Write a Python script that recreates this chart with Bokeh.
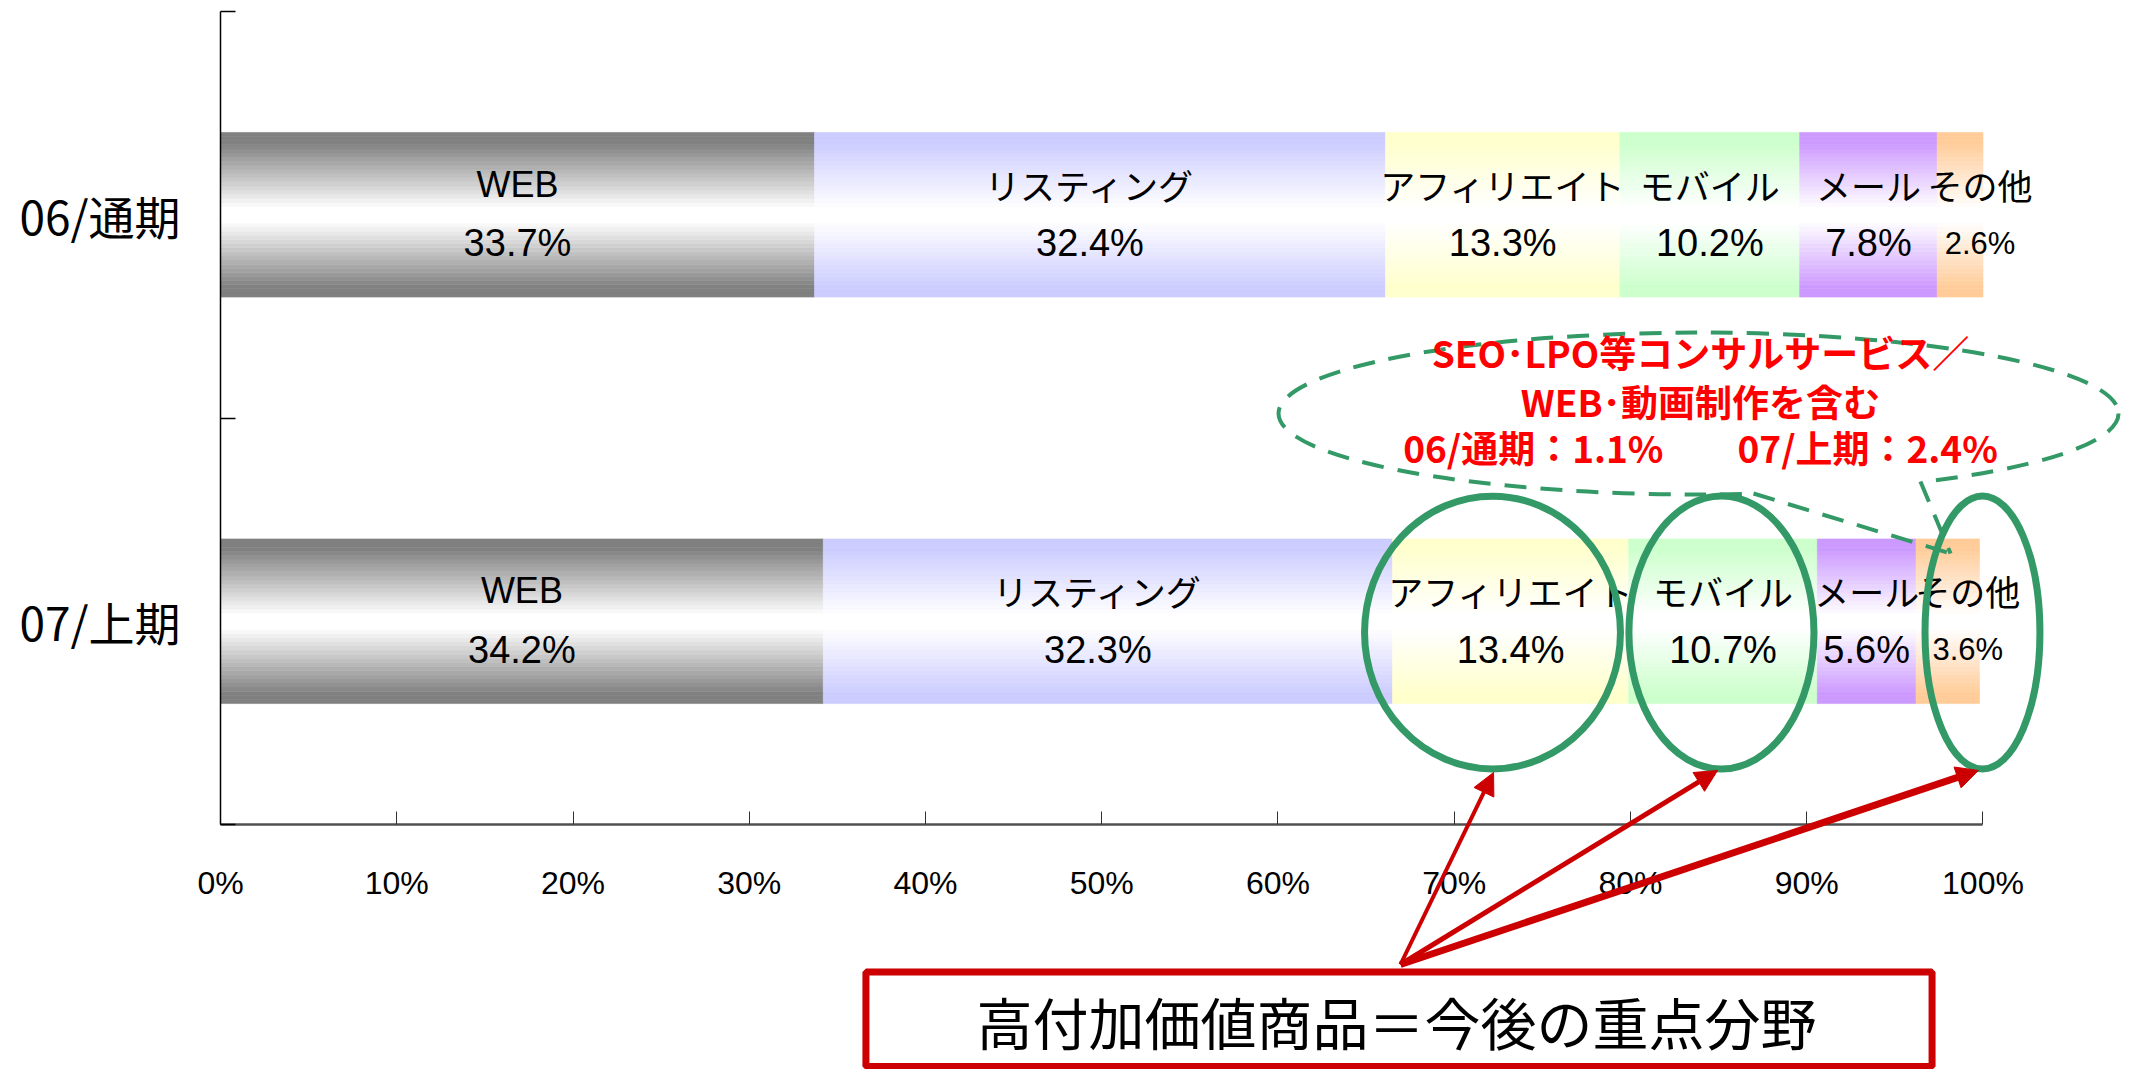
from bokeh.plotting import figure
from bokeh.models import (Range1d, FixedTicker, Arrow, NormalHead, ColumnDataSource)
from bokeh.core.properties import value
from bokeh.embed import file_html
from bokeh.resources import INLINE

# ---------------- data ----------------
periods = ["06/通期", "07/上期"]
segments = ["WEB", "リスティング", "アフィリエイト", "モバイル", "メール", "その他"]
share_06 = [33.7, 32.4, 13.3, 10.2, 7.8, 2.6]
share_07 = [34.2, 32.3, 13.4, 10.7, 5.6, 3.6]
x_tick_values = [0, 10, 20, 30, 40, 50, 60, 70, 80, 90, 100]
x_tick_labels = ["0%", "10%", "20%", "30%", "40%", "50%", "60%", "70%", "80%", "90%", "100%"]

note_lines = ["SEO･LPO等コンサルサービス／", "WEB･動画制作を含む", "06/通期：1.1%　　07/上期：2.4%"]
box_text = "高付加価値商品＝今後の重点分野"

# ---------------- style ----------------
edge_colors = ["#808080", "#CCCCFF", "#FFFFCC", "#CCFFCC", "#CC99FF", "#FFCC99"]
label_dx = [0, -10, 0, 0, 0, 20]
LAT = "Liberation Sans"
JP = "Noto Sans CJK JP"
GREEN = "#339966"
RED = "#CC0000"

W, H = 2132, 1069
p = figure(width=W, height=H, output_backend="svg", toolbar_location=None,
           x_range=Range1d(-12.4823, 108.4823), y_range=Range1d(-0.6027, 2.0271))
p.min_border_left = 0
p.min_border_right = 0
p.min_border_top = 0
p.min_border_bottom = 0
p.outline_line_color = None
p.xgrid.visible = False
p.ygrid.visible = False
p.background_fill_color = "white"
p.border_fill_color = "white"

# x axis, drawn at y = 0
xa = p.xaxis[0]
xa.fixed_location = 0
xa.ticker = FixedTicker(ticks=x_tick_values)
xa.major_label_overrides = {v: s for v, s in zip(x_tick_values, x_tick_labels)}
xa.bounds = (0, 100)
xa.axis_line_color = "#505050"
xa.axis_line_width = 2.5
xa.major_tick_in = 13
xa.major_tick_out = 0
xa.major_tick_line_color = "#303030"
xa.minor_tick_line_color = None
xa.major_label_text_font = LAT
xa.major_label_text_font_size = "32px"
xa.major_label_text_color = "black"
xa.major_label_standoff = 40

# y axis at x = 0 (category bands, ticks between bands)
ya = p.yaxis[0]
ya.fixed_location = 0
centers = [len(periods) - i - 0.5 for i in range(len(periods))]
ya.ticker = FixedTicker(ticks=sorted(centers), minor_ticks=[0, 1, 2])
ya.major_label_overrides = {c: per for c, per in zip(centers, periods)}
ya.bounds = (0, 2)
ya.axis_line_color = "black"
ya.axis_line_width = 1.5
ya.major_tick_line_color = None
ya.major_tick_in = 0
ya.major_tick_out = 0
ya.minor_tick_in = 15
ya.minor_tick_out = 0
ya.minor_tick_line_color = "black"
ya.minor_tick_line_width = 1.5
ya.major_label_text_font = JP
ya.major_label_text_font_size = "46px"
ya.major_label_text_color = "black"
ya.major_label_standoff = 40


def hex2rgb(h):
    h = h.lstrip("#")
    return tuple(int(h[i:i + 2], 16) for i in (0, 2, 4))


def mix(c, f):
    r, g, b = hex2rgb(c)
    return "#%02x%02x%02x" % tuple(round(255 + (v - 255) * f) for v in (r, g, b))


# ---------------- gradient bars ----------------
N = 40
bar_h = 0.405
q = dict(left=[], right=[], bottom=[], top=[], color=[])
names = dict(x=[], y=[], text=[], font=[], fs=[], dx=[])
pcts = dict(x=[], y=[], text=[], fs=[], dx=[])
for yc, shares in zip(centers, [share_06, share_07]):
    left = 0.0
    for j, v in enumerate(shares):
        right = left + v
        for k in range(N):
            b = yc - bar_h / 2 + k * bar_h / N
            t = abs((k + 0.5) / N * 2 - 1)
            f = min(1.0, max(0.0, (t - 0.08) / 0.8))
            q["left"].append(left)
            q["right"].append(right)
            q["bottom"].append(b)
            q["top"].append(b + bar_h / N)
            q["color"].append(mix(edge_colors[j], f))
        cx = (left + right) / 2
        names["x"].append(cx)
        names["y"].append(yc + 0.075)
        names["text"].append(segments[j])
        ascii_name = segments[j].isascii()
        names["font"].append(LAT if ascii_name else JP)
        names["fs"].append("36px" if ascii_name else "35px")
        names["dx"].append(label_dx[j])
        pcts["x"].append(cx)
        pcts["y"].append(yc - 0.070)
        pcts["text"].append("%.1f%%" % v)
        pcts["fs"].append("31px" if j == len(shares) - 1 else "38px")
        pcts["dx"].append(label_dx[j])
        left = right

p.quad(left="left", right="right", bottom="bottom", top="top", fill_color="color",
       line_color="color", line_width=0.6, source=ColumnDataSource(q))

p.text(x="x", y="y", text="text", text_font="font", text_font_size="fs", x_offset="dx",
       text_align="center", text_baseline="middle", text_color="black",
       source=ColumnDataSource(names))
p.text(x="x", y="y", text="text", text_font=value(LAT), text_font_size="fs", x_offset="dx",
       text_align="center", text_baseline="middle", text_color="black",
       source=ColumnDataSource(pcts))

# ---------------- callout annotations ----------------
p.ellipse(x=[83.86], y=[1.011], width=[47.66], height=[0.3985], fill_color=None,
          line_color=GREEN, line_width=4, line_dash="22 14")
# opening of the speech bubble where the pointer leaves the ellipse
p.patch(x=[86.3, 96.7, 97.45, 92.6, 86.3], y=[0.835, 0.862, 0.74, 0.74, 0.823],
        fill_color="white", line_color=None)
p.multi_line(xs=[[86.98, 98.16], [96.45, 98.16]], ys=[[0.8143, 0.6667], [0.8438, 0.6667]],
             line_color=GREEN, line_width=4, line_dash="22 14")
p.ellipse(x=[72.17, 85.16, 99.97], y=[0.4723] * 3, width=[14.52, 10.50, 6.52],
          height=[0.6716] * 3, fill_color=None, line_color=GREEN, line_width=7)

p.text(x=[83.97] * 3, y=[1.1633, 1.0428, 0.9296], text=note_lines,
       text_font=value(JP), text_font_style="bold", text_font_size="37px",
       text_color="#FF0000", text_align="center", text_baseline="middle")

for xe, ye, lw in [(72.23, 0.128, 4), (84.94, 0.133, 5), (99.74, 0.133, 7)]:
    p.add_layout(Arrow(x_start=66.95, y_start=-0.3444, x_end=xe, y_end=ye,
                       line_color=RED, line_width=lw,
                       end=NormalHead(size=22, fill_color=RED, line_color=RED, line_width=1)))

p.quad(left=[36.62], right=[97.11], top=[-0.3629], bottom=[-0.5953],
       fill_color="white", line_color=RED, line_width=7)
p.text(x=[66.72], y=[-0.482], text=[box_text], text_font=value(JP), text_font_size="56px",
       text_color="black", text_align="center", text_baseline="middle")

open("out.html", "w").write(file_html(p, INLINE))
